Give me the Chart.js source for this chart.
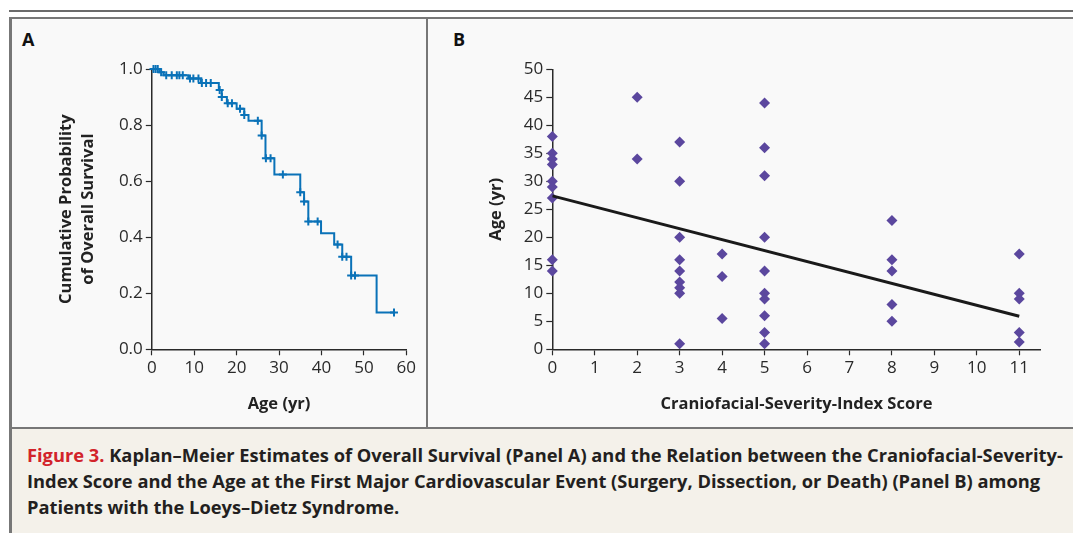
<!DOCTYPE html>
<html>
<head>
<meta charset="utf-8">
<script src="https://cdn.jsdelivr.net/npm/chart.js@4.4.0/dist/chart.umd.min.js"></script>
<style>
  body { margin: 0; width: 1073px; height: 533px; overflow: hidden; position: relative; background: #fff; font-family: "Open Sans", sans-serif; }
  .rule { position: absolute; left: 9px; top: 10px; width: 1064px; height: 2px; background: #6b6b6b; }
  .panels { position: absolute; left: 9px; top: 17px; width: 1064px; height: 412px; box-sizing: border-box;
            background: #f9f9f9; border-top: 2px solid #777; border-left: 3px solid #777; border-bottom: 2px solid #777; }
  .divider { position: absolute; left: 426px; top: 17px; width: 2px; height: 412px; background: #777; }
  .caption { position: absolute; left: 9px; top: 429px; width: 1064px; height: 104px; box-sizing: border-box;
             background: #f4f1ea; border-left: 3px solid #777; padding: 13px 0 0 15px;
             font-size: 18.3px; font-weight: 700; line-height: 26px; color: #231f20; white-space: nowrap; }
  .caption .fig { color: #d2232a; }
  .letter { position: absolute; top: 27px; font-size: 18px; font-weight: 700; color: #111; }
  canvas { position: absolute; }
</style>
</head>
<body>
<div class="rule"></div>
<div class="panels"></div>
<div class="divider"></div>
<div class="letter" style="left:22px">A</div>
<div class="letter" style="left:453px">B</div>
<canvas id="kmChart" width="414" height="408" style="left:12px; top:19px"></canvas>
<canvas id="scoreChart" width="645" height="408" style="left:428px; top:19px"></canvas>
<div class="caption">
  <span class="fig">Figure 3.</span> Kaplan–Meier Estimates of Overall Survival (Panel A) and the Relation between the Craniofacial-Severity-<br>
  Index Score and the Age at the First Major Cardiovascular Event (Surgery, Dissection, or Death) (Panel B) among<br>
  Patients with the Loeys–Dietz Syndrome.
</div>
<script>
// Panel A: Kaplan-Meier steps (age at event, survival after event)
const kmAges = [0, 1.8, 2.8, 8.6, 11.6, 15.8, 16.5, 17.7, 20.0, 21.8, 22.8, 25.9, 26.8, 28.9, 35.0, 35.9, 36.9, 39.9, 43.0, 44.9, 47.0, 53.0, 57.1];
const kmSurvival = [1.0, 0.988, 0.978, 0.966, 0.95, 0.925, 0.9, 0.878, 0.858, 0.836, 0.815, 0.763, 0.682, 0.624, 0.56, 0.527, 0.456, 0.414, 0.374, 0.33, 0.263, 0.131, 0.131];

// censored observations
const censorAges = [0.4, 0.9, 1.4, 2.2, 3.4, 4.7, 5.9, 6.5, 7.3, 9.0, 9.8, 11.0, 11.8, 12.8, 13.9, 16.0, 16.5, 17.9, 18.9, 20.8, 21.8, 25.0, 25.9, 26.9, 28.0, 30.9, 35.0, 35.9, 36.9, 39.1, 43.8, 44.9, 45.9, 47.0, 47.9, 57.1];
const censorSurvival = [1.0, 1.0, 1.0, 0.988, 0.978, 0.978, 0.978, 0.978, 0.978, 0.966, 0.966, 0.966, 0.95, 0.95, 0.95, 0.925, 0.9, 0.878, 0.878, 0.858, 0.836, 0.815, 0.763, 0.682, 0.682, 0.624, 0.56, 0.527, 0.456, 0.456, 0.374, 0.33, 0.33, 0.263, 0.263, 0.131];

const ageTicksA = [0, 10, 20, 30, 40, 50, 60];
const survivalTicks = [0, 0.2, 0.4, 0.6, 0.8, 1.0];

// Panel B: craniofacial severity score vs age at first event
const severityScores = [0, 0, 0, 0, 0, 0, 0, 0, 0,
  2, 2,
  3, 3, 3, 3, 3, 3, 3, 3, 3,
  4, 4, 4,
  5, 5, 5, 5, 5, 5, 5, 5, 5, 5,
  8, 8, 8, 8, 8,
  11, 11, 11, 11, 11];
const eventAges = [38, 35, 34, 33, 30, 29, 27, 16, 14,
  45, 34,
  37, 30, 20, 16, 14, 12, 11, 10, 1,
  17, 13, 5.5,
  44, 36, 31, 20, 14, 10, 9, 6, 3, 1,
  23, 16, 14, 8, 5,
  17, 10, 9, 3, 1.3];

const fitScores = [0, 11];
const fitAges = [27.4, 5.9];

const scoreTicks = [0, 1, 2, 3, 4, 5, 6, 7, 8, 9, 10, 11];
const ageTicksB = [0, 5, 10, 15, 20, 25, 30, 35, 40, 45, 50];

const tickFont = { family: "Open Sans", size: 17 };
const titleFont = { family: "Open Sans", size: 16.5, weight: 700, lineHeight: 1.333 };
const axisColor = "#2a2a2a";
const kmBlue = "#0a72b8";

function fixedTicks(values) {
  return function (scale) {
    scale.ticks = values.map((v) => ({ value: v }));
  };
}

function pairs(xs, ys) {
  return xs.map((x, i) => ({ x: x, y: ys[i] }));
}

function axis(extra) {
  return Object.assign({
    type: "linear",
    grid: { drawOnChartArea: false, tickLength: 6, color: axisColor, tickWidth: 1.2 },
    border: { color: axisColor, width: 1.5 },
    ticks: { font: tickFont, color: axisColor, padding: 3, maxRotation: 0 },
  }, extra);
}

// Kaplan-Meier chart
new Chart(document.getElementById("kmChart"), {
  type: "scatter",
  data: {
    datasets: [
      {
        data: pairs(censorAges, censorSurvival),
        pointStyle: "cross",
        radius: 4,
        borderColor: kmBlue,
        borderWidth: 2,
        clip: false,
      },
      {
        data: pairs(kmAges, kmSurvival),
        showLine: true,
        stepped: true,
        borderColor: kmBlue,
        borderWidth: 2,
        pointRadius: 0,
        clip: false,
      },
    ],
  },
  options: {
    responsive: false,
    animation: false,
    devicePixelRatio: 1,
    layout: { padding: { top: 50, right: 19.7, left: 0, bottom: 0 } },
    plugins: { legend: { display: false }, tooltip: { enabled: false } },
    scales: {
      x: axis({
        min: 0,
        max: 60,
        afterBuildTicks: fixedTicks(ageTicksA),
        afterFit: (s) => { s.height = 77.7; },
        title: { display: true, text: "Age (yr)", font: titleFont, color: "#222", padding: { bottom: 12 } },
      }),
      y: axis({
        min: 0,
        max: 1,
        afterBuildTicks: fixedTicks(survivalTicks),
        afterFit: (s) => { s.width = 139.8; },
        ticks: { font: tickFont, color: axisColor, padding: 3, callback: (v) => v.toFixed(1) },
        title: { display: true, text: ["Cumulative Probability", "of Overall Survival"], font: titleFont, color: "#222", padding: { top: 43 } },
      }),
    },
  },
});

// Severity score scatter
new Chart(document.getElementById("scoreChart"), {
  type: "scatter",
  data: {
    datasets: [
      {
        data: pairs(fitScores, fitAges),
        showLine: true,
        borderColor: "#1a1a1a",
        borderWidth: 3,
        pointRadius: 0,
      },
      {
        data: pairs(severityScores, eventAges),
        pointStyle: "rectRot",
        radius: 5.5,
        backgroundColor: "#5b479e",
        borderWidth: 0,
        clip: false,
      },
    ],
  },
  options: {
    responsive: false,
    animation: false,
    devicePixelRatio: 1,
    layout: { padding: { top: 50.3, right: 32.5, left: 0, bottom: 0 } },
    plugins: { legend: { display: false }, tooltip: { enabled: false } },
    scales: {
      x: axis({
        min: 0,
        max: 11.5,
        afterBuildTicks: fixedTicks(scoreTicks),
        afterFit: (s) => { s.height = 77.7; },
        title: { display: true, text: "Craniofacial-Severity-Index Score", font: titleFont, color: "#222", padding: { bottom: 12 } },
      }),
      y: axis({
        min: 0,
        max: 50,
        afterBuildTicks: fixedTicks(ageTicksB),
        afterFit: (s) => { s.width = 124.3; },
        title: { display: true, text: "Age (yr)", font: titleFont, color: "#222", padding: { top: 57 } },
      }),
    },
  },
});
</script>
</body>
</html>
